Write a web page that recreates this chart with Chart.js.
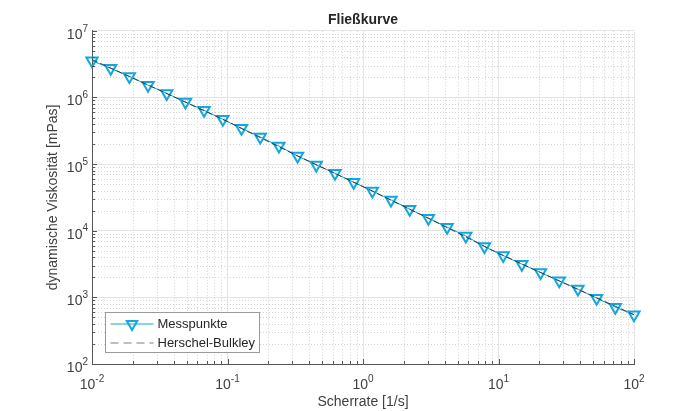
<!DOCTYPE html>
<html>
<head>
<meta charset="utf-8">
<script src="https://cdn.jsdelivr.net/npm/chart.js@4/dist/chart.umd.min.js"></script>
<style>
  html, body { margin: 0; padding: 0; background: #fff; }
</style>
</head>
<body>
<canvas id="flow" width="700" height="411"></canvas>
<script>
// Messpunkte (Scherrate in 1/s, Viskosität in mPas)
const shearRate = [0.01, 0.01374, 0.01887, 0.02593, 0.03562, 0.04894, 0.06723, 0.09237, 0.1269, 0.1743,
  0.2395, 0.329, 0.452, 0.621, 0.8532, 1.172, 1.61, 2.212, 3.039, 4.175,
  5.736, 7.88, 10.83, 14.87, 20.43, 28.07, 38.57, 52.98, 72.79, 100];
const viscosity = [3.55e6, 2.73e6, 2.07e6, 1.53e6, 1.15e6, 8.53e5, 6.41e5, 4.70e5, 3.44e5, 2.55e5,
  1.87e5, 1.32e5, 9.7e4, 7.28e4, 5.33e4, 3.95e4, 2.90e4, 2.10e4, 1.54e4, 1.13e4,
  8.35e3, 5.78e3, 4.24e3, 3.15e3, 2.36e3, 1.77e3, 1.33e3, 973, 713, 547];

// Herschel-Bulkley Kurve
const fitRate = [0.01, 0.0316, 0.1, 0.316, 1, 3.16, 10, 31.6, 100];
const fitViscosity = [3.7e6, 1.28e6, 4.35e5, 1.38e5, 4.59e4, 1.48e4, 4.58e3, 1.58e3, 550];

// Achsen
const xDecades = [0.01, 0.1, 1, 10, 100];
const xExponents = ['-2', '-1', '0', '1', '2'];
const yDecades = [1e2, 1e3, 1e4, 1e5, 1e6, 1e7];
const yExponents = ['2', '3', '4', '5', '6', '7'];

const cyan = '#14a6dc';
const axisGray = '#555555';
const textGray = '#404040';
const fontFam = '"Liberation Sans", Arial, sans-serif';

Chart.defaults.font.family = fontFam;

// major ticks at decades, minor at 2..9
function logTicks(decades) {
  const out = [];
  for (let i = 0; i < decades.length - 1; i++) {
    for (let k = 1; k <= 9; k++) out.push({ value: decades[i] * k, major: k === 1 });
  }
  out.push({ value: decades[decades.length - 1], major: true });
  return out;
}

const minorGrid = {
  id: 'minorGrid',
  beforeDatasetsDraw(chart) {
    const { ctx, chartArea: a, scales: { x, y } } = chart;
    ctx.save();
    ctx.strokeStyle = '#d4d4d4';
    ctx.lineWidth = 1;
    ctx.setLineDash([1, 2]);
    x.ticks.forEach(t => {
      if (t.major) return;
      const px = Math.round(x.getPixelForValue(t.value)) + 0.5;
      ctx.beginPath(); ctx.moveTo(px, a.top); ctx.lineTo(px, a.bottom); ctx.stroke();
    });
    y.ticks.forEach(t => {
      if (t.major) return;
      const py = Math.round(y.getPixelForValue(t.value)) + 0.5;
      ctx.beginPath(); ctx.moveTo(a.left, py); ctx.lineTo(a.right, py); ctx.stroke();
    });
    ctx.restore();
  }
};

// inward ticks + labels like 10^n
const axisLabels = {
  id: 'axisLabels',
  afterDraw(chart) {
    const { ctx, chartArea: a, scales: { x, y } } = chart;
    ctx.save();
    ctx.strokeStyle = axisGray;
    ctx.lineWidth = 1;
    x.ticks.forEach(t => {
      const px = Math.round(x.getPixelForValue(t.value)) + 0.5;
      ctx.beginPath(); ctx.moveTo(px, a.bottom); ctx.lineTo(px, a.bottom - (t.major ? 5 : 3)); ctx.stroke();
    });
    y.ticks.forEach(t => {
      const py = Math.round(y.getPixelForValue(t.value)) + 0.5;
      ctx.beginPath(); ctx.moveTo(a.left, py); ctx.lineTo(a.left + (t.major ? 5 : 3), py); ctx.stroke();
    });

    ctx.fillStyle = textGray;
    ctx.textBaseline = 'middle';
    const big = '14px ' + fontFam, small = '10px ' + fontFam;

    xDecades.forEach((v, i) => {
      const px = x.getPixelForValue(v);
      ctx.font = big; const w1 = ctx.measureText('10').width;
      ctx.font = small; const w2 = ctx.measureText(xExponents[i]).width;
      const x0 = px - (w1 + w2) / 2;
      ctx.textAlign = 'left';
      ctx.font = big; ctx.fillText('10', x0, a.bottom + 21);
      ctx.font = small; ctx.fillText(xExponents[i], x0 + w1, a.bottom + 15);
    });

    yDecades.forEach((v, i) => {
      const py = y.getPixelForValue(v);
      ctx.font = small; const w2 = ctx.measureText(yExponents[i]).width;
      const xr = a.left - 4;
      ctx.textAlign = 'right';
      ctx.font = big; ctx.fillText('10', xr - w2, py + 4);
      ctx.font = small; ctx.fillText(yExponents[i], xr, py - 2);
    });
    ctx.restore();
  }
};

const legendBox = {
  id: 'legendBox',
  afterDraw(chart) {
    const { ctx, chartArea: a } = chart;
    const ds = chart.data.datasets;
    const bx = Math.round(a.left + 13) + 0.5, by = Math.round(a.bottom - 52) + 0.5;
    const bw = 154, bh = 40;
    ctx.save();
    ctx.fillStyle = '#fff';
    ctx.fillRect(bx, by, bw, bh);
    ctx.strokeStyle = '#9a9a9a';
    ctx.lineWidth = 1;
    ctx.strokeRect(bx, by, bw, bh);

    const r1 = by + 11.5, r2 = by + 30.5;
    // Messpunkte
    ctx.strokeStyle = cyan; ctx.lineWidth = 1;
    ctx.beginPath(); ctx.moveTo(bx + 5, r1); ctx.lineTo(bx + 48, r1); ctx.stroke();
    const mx = bx + 26.5, mr = 6;
    ctx.lineWidth = 2;
    ctx.beginPath();
    ctx.moveTo(mx - mr * 0.866, r1 - mr / 2);
    ctx.lineTo(mx + mr * 0.866, r1 - mr / 2);
    ctx.lineTo(mx, r1 + mr);
    ctx.closePath(); ctx.stroke();
    // Herschel-Bulkley
    ctx.strokeStyle = '#a8a8a8'; ctx.lineWidth = 1.5;
    ctx.setLineDash([8, 5]);
    ctx.beginPath(); ctx.moveTo(bx + 5, r2); ctx.lineTo(bx + 48, r2); ctx.stroke();
    ctx.setLineDash([]);

    ctx.fillStyle = '#262626';
    ctx.font = '13px ' + fontFam;
    ctx.textBaseline = 'middle';
    ctx.textAlign = 'left';
    ctx.fillText(ds[0].label, bx + 52, r1 + 0.5);
    ctx.fillText(ds[1].label, bx + 52, r2 + 0.5);
    ctx.restore();
  }
};

new Chart(document.getElementById('flow'), {
  type: 'line',
  data: {
    datasets: [
      {
        label: 'Messpunkte',
        data: shearRate.map((v, i) => ({ x: v, y: viscosity[i] })),
        borderColor: cyan,
        borderWidth: 1,
        pointStyle: 'triangle',
        rotation: 180,
        pointRadius: 6.5,
        pointBorderWidth: 2,
        pointBorderColor: cyan,
        pointBackgroundColor: 'rgba(0,0,0,0)',
        clip: false,
        order: 1
      },
      {
        label: 'Herschel-Bulkley',
        data: fitRate.map((v, i) => ({ x: v, y: fitViscosity[i] })),
        borderColor: 'rgba(45,45,45,0.9)',
        borderWidth: 1,
        borderDash: [6, 3],
        pointRadius: 0,
        order: 0
      }
    ]
  },
  options: {
    responsive: false,
    animation: false,
    layout: { padding: { left: 0, right: 66, top: 0, bottom: 0 } },
    plugins: {
      legend: { display: false },
      tooltip: { enabled: false },
      title: {
        display: true,
        text: 'Fließkurve',
        fullSize: false,
        color: '#262626',
        font: { size: 14, weight: 'bold' },
        padding: { top: 12, bottom: 2 }
      }
    },
    scales: {
      x: {
        type: 'logarithmic',
        min: 0.01, max: 100,
        afterBuildTicks: s => { s.ticks = logTicks(xDecades); },
        afterFit: s => { s.height = 47; },
        ticks: { display: false },
        grid: { color: c => (c.tick && c.tick.major) ? '#e4e4e4' : 'rgba(0,0,0,0)', drawTicks: false },
        border: { color: axisGray, width: 1 },
        title: { display: true, text: 'Scherrate [1/s]', color: textGray, font: { size: 14 }, padding: { top: 0, bottom: 0 } }
      },
      y: {
        type: 'logarithmic',
        min: 1e2, max: 1e7,
        afterBuildTicks: s => { s.ticks = logTicks(yDecades); },
        afterFit: s => { s.width = 92; },
        ticks: { display: false },
        grid: { color: c => (c.tick && c.tick.major) ? '#e4e4e4' : 'rgba(0,0,0,0)', drawTicks: false },
        border: { color: axisGray, width: 1 },
        title: { display: true, text: 'dynamische Viskosität [mPas]', color: textGray, font: { size: 14 }, padding: { top: 45, bottom: 0 } }
      }
    }
  },
  plugins: [minorGrid, axisLabels, legendBox]
});
</script>
</body>
</html>
